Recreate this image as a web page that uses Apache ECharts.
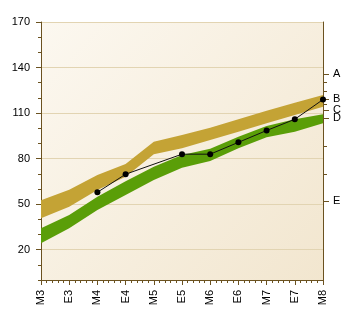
<!DOCTYPE html>
<html>
<head>
<meta charset="utf-8">
<style>
  html, body { margin: 0; padding: 0; background: #ffffff; }
  #chart { width: 357px; height: 323px; }
</style>
<script src="https://cdn.jsdelivr.net/npm/echarts@6/dist/echarts.min.js"></script>
</head>
<body>
<div id="chart"></div>
<script>
// Periods along the bottom axis
const categories = ['M3', 'E3', 'M4', 'E4', 'M5', 'E5', 'M6', 'E6', 'M7', 'E7', 'M8'];

// Upper and lower edges of the two range bands
const goldUpper  = [52.5, 59.5, 69.2, 76.5, 91.1, 95.5, 100.4, 105.9, 111.6, 116.8, 121.9];
const goldLower  = [40.7, 48.3, 59.3, 68.0, 82.8, 86.8, 92.2, 97.7, 103.3, 108.7, 114.2];
const greenUpper = [34.1, 42.8, 54.9, 65.0, 74.7, 82.4, 86.5, 94.4, 101.5, 105.9, 109.2];
const greenLower = [24.2, 34.1, 46.1, 56.0, 65.9, 74.0, 78.4, 86.8, 94.0, 97.7, 103.3];

// Measured points (gaps are periods without a value)
const measured = [null, null, 57.8, 69.7, null, 82.9, 82.9, 90.7, 98.5, 105.9, 118.9];

// Left axis labels
const leftTickValues = [20, 50, 80, 110, 140, 170];

// Right axis markers
const rightMarkNames  = ['A', 'B', 'C', 'D', 'E'];
const rightMarkValues = [135.5, 119.3, 112.0, 106.7, 52.1];
const rightMinorValues = [130.5, 124.5, 115.8, 88.3, 69.6];

const axisColor = '#6b5220';
const gridColor = '#e2d4b2';
const font = 'Liberation Sans';

const chart = echarts.init(document.getElementById('chart'), null, { renderer: 'canvas' });

const goldBand = goldUpper.map((v, i) => +(v - goldLower[i]).toFixed(2));
const greenBand = greenUpper.map((v, i) => +(v - greenLower[i]).toFixed(2));

const hiddenLine = { width: 0, opacity: 0 };

chart.setOption({
  animation: false,
  grid: {
    left: 41, right: 34, top: 22, bottom: 43,
    show: true,
    borderWidth: 0,
    backgroundColor: new echarts.graphic.LinearGradient(0, 0, 1, 1, [
      { offset: 0, color: '#fcf8f0' },
      { offset: 1, color: '#f2e6cf' }
    ])
  },
  xAxis: [
    {
      type: 'category',
      data: categories,
      boundaryGap: false,
      axisLine: { lineStyle: { color: axisColor, width: 1 } },
      axisTick: { length: 5, lineStyle: { color: axisColor } },
      axisLabel: {
        rotate: 90, margin: 10, color: '#000', fontFamily: font, fontSize: 11,
        interval: 0
      },
      splitLine: { show: false }
    },
    {
      type: 'value',
      position: 'bottom',
      min: 0, max: 10, interval: 0.2,
      axisLine: { show: false },
      axisTick: { length: 3, lineStyle: { color: axisColor } },
      axisLabel: { show: false },
      splitLine: { show: false }
    }
  ],
  yAxis: [
    {
      type: 'value',
      position: 'left',
      min: 0, max: 170, interval: 10,
      axisLine: { show: true, lineStyle: { color: axisColor, width: 1 } },
      axisTick: { show: true, length: 3, lineStyle: { color: axisColor } },
      axisLabel: { show: false },
      splitLine: { show: false }
    },
    {
      type: 'value',
      position: 'left',
      min: 0, max: 170, interval: 10,
      axisLine: { show: false },
      axisTick: { show: true, length: 5, customValues: leftTickValues, lineStyle: { color: axisColor } },
      axisLabel: {
        customValues: leftTickValues, margin: 11,
        color: '#000', fontFamily: font, fontSize: 11
      },
      splitLine: { show: true, lineStyle: { color: gridColor, width: 1 } }
    },
    {
      type: 'value',
      position: 'right',
      min: 0, max: 170, interval: 10,
      axisLine: { show: true, lineStyle: { color: axisColor, width: 1 } },
      axisTick: { show: true, length: 6, customValues: rightMarkValues, lineStyle: { color: axisColor } },
      axisLabel: {
        customValues: rightMarkValues, margin: 10,
        color: '#000', fontFamily: font, fontSize: 11,
        formatter: v => {
          const i = rightMarkValues.findIndex(m => Math.abs(m - v) < 1e-6);
          return i >= 0 ? rightMarkNames[i] : '';
        }
      },
      splitLine: { show: false }
    },
    {
      type: 'value',
      position: 'right',
      min: 0, max: 170, interval: 10,
      axisLine: { show: false },
      axisTick: { show: true, length: 4, customValues: rightMinorValues, lineStyle: { color: axisColor } },
      axisLabel: { show: false },
      splitLine: { show: false }
    }
  ],
  series: [
    {
      name: 'goldBase', type: 'line', stack: 'gold', data: goldLower,
      symbol: 'none', lineStyle: hiddenLine, silent: true, z: 2
    },
    {
      name: 'gold', type: 'line', stack: 'gold', data: goldBand,
      symbol: 'none', lineStyle: hiddenLine,
      areaStyle: { color: '#c4a335', opacity: 1 }, silent: true, z: 2
    },
    {
      name: 'greenBase', type: 'line', stack: 'green', data: greenLower,
      symbol: 'none', lineStyle: hiddenLine, silent: true, z: 3
    },
    {
      name: 'green', type: 'line', stack: 'green', data: greenBand,
      symbol: 'none', lineStyle: hiddenLine,
      areaStyle: { color: '#5a9e08', opacity: 1 }, silent: true, z: 3
    },
    {
      name: 'measured', type: 'line', data: measured, connectNulls: true,
      symbol: 'circle', symbolSize: 6,
      itemStyle: { color: '#000' },
      lineStyle: { color: '#111', width: 1 }, z: 5
    }
  ]
});
</script>
</body>
</html>
